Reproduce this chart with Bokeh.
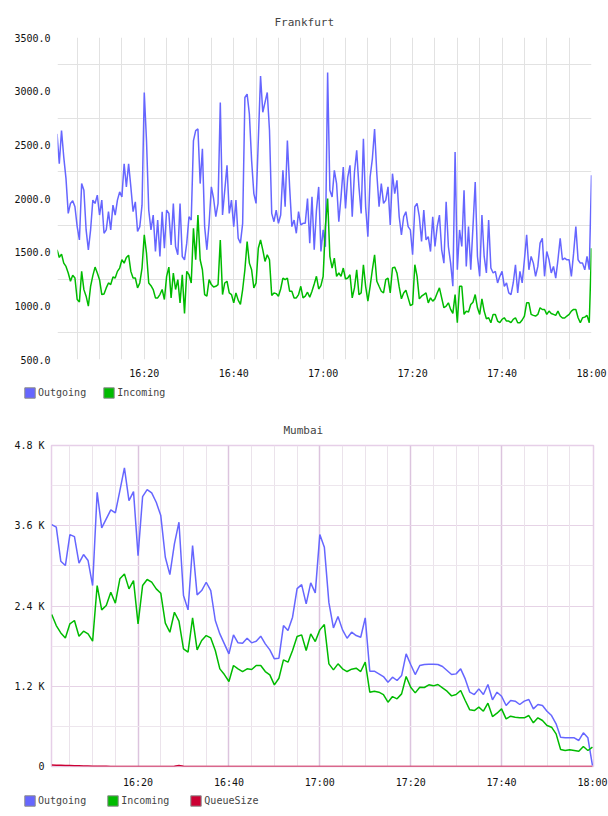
import pandas as pd
from bokeh.plotting import figure
from bokeh.models import (Range1d, FixedTicker, DatetimeTickFormatter, PrintfTickFormatter,
                          Legend, LegendItem, Grid)
from bokeh.embed import file_html
from bokeh.resources import INLINE

FONT = "DejaVu Sans Mono"
DAY = "2024-01-01 "
NAN = float("nan")

# ---------------- data: Frankfurt (30 s samples, 16:00:30 .. 18:00:00) ----------------
frank_start = "16:00:30"
frank_step = "30s"
frank_outgoing = [
    2602, 2324, 2633, 2386, 2185, 1861, 1954, 1979, 1923, 1738,
    1614, 2139, 2077, 1707, 1522, 1707, 1985, 1954, 2031, 1846,
    1985, 1676, 1707, 1877, 1707, 1938, 1846, 1985, 2062, 2015,
    2324, 2108, 2324, 2108, 1877, 1969, 1692, 1738, 1938, 2988,
    2540, 1892, 1707, 1846, 1506, 1799, 1460, 1877, 1537, 1892,
    1861, 1568, 1954, 1553, 1476, 1954, 1460, 1429, 1584, 1830,
    1799, 2540, 2633, 2648, 2139, 2463, 1738, 1522, 1769, 2108,
    2000, 1830, 1954, 2895, 1846, 2077, 2309, 1861, 1985, 1738,
    1985, 1630, 1584, 1769, 2941, 2972, 2787, 2355, 2046, 1954,
    2540, 3142, 2803, 2895, 2988, 2633, 1861, 1784, 1892, 1769,
    1846, 2262, 1923, 2540, 2108, 1738, 1799, 1676, 1877, 1753,
    1769, 1769, 2000, 1584, 2015, 1522, 1892, 2108, 1506, 1707,
    1550, 3173, 2077, 2015, 2262, 2139, 1784, 2015, 2293, 1908,
    2200, 2309, 1830, 2247, 2448, 2108, 1861, 2556, 1923, 1645,
    2200, 2370, 2648, 2231, 1923, 2139, 1954, 1985, 2108, 1753,
    2231, 2046, 2170, 1830, 1661, 1830, 1877, 1738, 1707, 1476,
    1923, 1954, 1830, 1599, 1892, 1614, 1645, 1506, 1830, 1553,
    1738, 1846, 1522, 1398, 1969, 1553, 1398, 1182, 2432, 1337,
    1707, 1553, 2077, 1367, 1738, 1336, 1738, 2154, 1460, 1275,
    1846, 1460, 1306, 1800, 1352, 1306, 1321, 1213, 1275, 1321,
    1182, 1213, 1120, 1105, 1213, 1383, 1120, 1321, 1213, 1429,
    1661, 1336, 1460, 1398, 1275, 1367, 1584, 1630, 1275, 1506,
    1429, 1306, 1367, 1259, 1429, 1630, 1429, 1445, 1429, 1429,
    1275, 1491, 1738, 1429, 1398, 1398, 1336, 1460, 1337, 2216,
]
frank_incoming = [
    1522, 1451, 1482, 1398, 1367, 1306, 1229, 1284, 1259, 1059,
    1037, 1321, 1151, 1090, 997, 1182, 1281, 1361, 1306, 1244,
    1105, 1111, 1167, 1213, 1198, 1269, 1259, 1321, 1352, 1429,
    1398, 1451, 1472, 1321, 1259, 1259, 1167, 1213, 1352, 1661,
    1491, 1213, 1188, 1152, 1074, 1074, 1105, 1152, 1059, 1275,
    1361, 1074, 1306, 1152, 1244, 1028, 1290, 930, 1321, 1290,
    1213, 1722, 1429, 1846, 1429, 1336, 1105, 1090, 1244, 1198,
    1176, 1182, 1198, 1614, 1105, 1213, 1229, 1120, 1105, 1028,
    1120, 1053, 1013, 1152, 1336, 1599, 1398, 1336, 1167, 1213,
    1537, 1614, 1522, 1414, 1476, 1429, 1096, 1120, 1114, 1090,
    1157, 1259, 1244, 1259, 1136, 1136, 1074, 1074, 1105, 1182,
    1074, 1090, 1127, 1080, 1136, 1204, 1275, 1157, 1188, 1275,
    1738, 2000, 1460, 1352, 1445, 1275, 1306, 1275, 1352, 1250,
    1259, 1290, 1074, 1167, 1336, 1105, 1120, 1383, 1182, 1044,
    1182, 1336, 1476, 1229, 1182, 1136, 1120, 1244, 1259, 1120,
    1352, 1361, 1306, 1176, 1065, 1120, 1145, 1074, 1003, 1013,
    1383, 1275, 1065, 1090, 1105, 1120, 1028, 1074, 1044, 1065,
    1120, 1167, 1074, 982, 997, 1028, 967, 929, 1105, 843,
    1182, 1182, 920, 951, 942, 1013, 1034, 1105, 982, 920,
    1065, 951, 880, 889, 843, 920, 920, 858, 843, 874,
    889, 858, 858, 843, 874, 889, 843, 843, 868, 905,
    1028, 1028, 920, 911, 905, 920, 982, 966, 966, 920,
    951, 929, 920, 911, 951, 905, 886, 886, 905, 920,
    951, 966, 966, 889, 843, 889, 895, 911, 843, 1537,
]

# ---------------- data: Mumbai (1 min samples, 16:01 .. 18:00) ----------------
mumbai_start = "16:01:00"
mumbai_step = "60s"
mumbai_outgoing = [
    3618, 3578, 3070, 3005, 3468, 3438, 3040, 3169, 3080, 2706,
    4101, 3568, 3702, 3837, 3792, 4126, 4465, 3976, 4111, 3154,
    4036, 4141, 4091, 3951, 3752, 3129, 2870, 3329, 3653, 2556,
    2342, 3304, 2566, 2631, 2755, 2631, 2183, 1983, 1834, 1684,
    1968, 1849, 1844, 1918, 1849, 1874, 1948, 1834, 1744, 1610,
    1620, 2108, 2033, 2232, 2660, 2720, 2432, 2746, 2596, 3468,
    3279, 2450, 2073, 2242, 2043, 1918, 2008, 1958, 1933, 2222,
    1425, 1425, 1385, 1345, 1261, 1335, 1286, 1360, 1684, 1525,
    1375, 1510, 1525, 1530, 1530, 1525, 1495, 1435, 1375, 1385,
    1460, 1310, 1111, 1076, 1161, 1076, 1226, 997, 1111, 1051,
    912, 987, 977, 927, 977, 1002, 862, 927, 912, 827,
    762, 638, 438, 429, 429, 429, 389, 503, 429, 15,
]
mumbai_incoming = [
    2272, 2108, 1998, 1923, 2133, 2183, 1948, 2023, 1983, 1874,
    2706, 2342, 2407, 2606, 2442, 2806, 2880, 2656, 2781, 2133,
    2706, 2796, 2756, 2656, 2591, 2143, 2008, 2307, 2173, 1759,
    1709, 2222, 1744, 1884, 1958, 1923, 1734, 1460, 1375, 1271,
    1510, 1460, 1420, 1460, 1450, 1510, 1510, 1420, 1370, 1221,
    1320, 1595, 1560, 1734, 1943, 1968, 1734, 1983, 1869, 2043,
    2123, 1535, 1445, 1535, 1460, 1420, 1455, 1470, 1420, 1560,
    1111, 1126, 1111, 1076, 962, 1046, 1012, 1086, 1345, 1186,
    1101, 1186, 1181, 1221, 1206, 1226, 1176, 1126, 1056, 1076,
    1136, 987, 847, 837, 887, 827, 947, 747, 797, 862,
    713, 752, 737, 728, 728, 762, 653, 728, 688, 613,
    588, 488, 254, 239, 249, 239, 229, 299, 239, 289,
]
mumbai_queue = [
    22, 20, 18, 16, 14, 12, 10, 8, 6, 4,
    3, 2, 2, 1, 1, 0, 0, 0, 0, 0,
    0, 0, 0, 0, 0, 0, 0, 4, 14, 4,
    0, 0, 0, 0, 0, 0, 0, 0, 0, 0,
    0, 0, 0, 0, 0, 0, 0, 0, 0, 0,
    0, 0, 0, 0, 0, 0, 0, 0, 0, 0,
    0, 0, 0, 0, 0, 0, 0, 0, 0, 0,
    0, 0, 0, 0, 0, 0, 0, 0, 0, 0,
    0, 0, 0, 0, 0, 0, 0, 0, 0, 0,
    0, 0, 0, 0, 0, 0, 0, 0, 0, 0,
    0, 0, 0, 0, 0, 0, 0, 0, 0, 0,
    0, 0, 0, 0, 0, 0, 0, 0, 0, 0,
]

x_tick_labels = ["16:20", "16:40", "17:00", "17:20", "17:40", "18:00"]
frank_y_ticks = [500, 1000, 1500, 2000, 2500, 3000, 3500]
mumbai_y_ticks = [0, 1200, 2400, 3600, 4800]
mumbai_y_labels = ["0", "1.2 K", "2.4 K", "3.6 K", "4.8 K"]

COL_OUT = "#6666ff"
COL_IN = "#00bb00"
COL_Q = "#cc0033"


def ms(hhmmss):
    return pd.Timestamp(DAY + hhmmss).value / 1e6


def minute_ticks(first, last, step_min):
    t0 = pd.Timestamp(DAY + first)
    t1 = pd.Timestamp(DAY + last)
    return [t.value / 1e6 for t in pd.date_range(t0, t1, freq=f"{step_min}min")]


fmt = DatetimeTickFormatter(seconds="%H:%M", minsec="%H:%M", minutes="%H:%M",
                            hourmin="%H:%M", hours="%H:%M")


def style_axes(p, x_standoff):
    for ax in (p.xaxis[0], p.yaxis[0]):
        ax.axis_line_color = None
        ax.major_tick_line_color = None
        ax.minor_tick_line_color = None
        ax.major_tick_out = 0
        ax.major_tick_in = 0
        ax.minor_tick_out = 0
        ax.minor_tick_in = 0
        ax.major_label_text_font = FONT
        ax.major_label_text_font_size = "10px"
        ax.major_label_text_color = "#111111"
    p.yaxis[0].major_label_standoff = 7
    p.xaxis[0].major_label_standoff = x_standoff
    p.xaxis[0].ticker = FixedTicker(ticks=[ms(t + ":00") for t in x_tick_labels])
    p.xaxis[0].formatter = fmt


def legend_strip(names, colors, height, x0, y0, spacing):
    """A thin figure that only carries the legend row under a chart."""
    lf = figure(width=608, height=height, output_backend="svg", toolbar_location=None,
                x_range=Range1d(0, 1), y_range=Range1d(0, 1),
                x_axis_location=None, y_axis_location=None,
                min_border_left=0, min_border_right=0, min_border_top=0, min_border_bottom=0)
    lf.outline_line_color = None
    lf.xgrid.visible = False
    lf.ygrid.visible = False
    items = []
    for n, c in zip(names, colors):
        r = lf.quad(left=[NAN], right=[NAN], top=[NAN], bottom=[NAN],
                    fill_color=c, line_color="#8a8a8a")
        items.append(LegendItem(label=n, renderers=[r]))
    leg = Legend(items=items, orientation="horizontal", location=(x0, y0),
                 glyph_width=13, glyph_height=13, label_standoff=2, spacing=spacing,
                 padding=0, margin=0, border_line_color=None, background_fill_alpha=0,
                 label_text_font=FONT, label_text_font_size="10px", label_height=13)
    lf.add_layout(leg, "center")
    return lf


# ---------------- Frankfurt ----------------
ft = pd.date_range(DAY + frank_start, periods=len(frank_outgoing), freq=frank_step)
p1 = figure(width=608, height=383, x_axis_type="datetime", output_backend="svg",
            toolbar_location=None, x_range=Range1d(ms("16:00:36"), ms("18:00:00")),
            y_range=Range1d(500, 3500), min_border_left=57, min_border_right=17,
            min_border_top=37, min_border_bottom=24, title="Frankfurt")
p1.outline_line_color = None
p1.title.align = "left"
p1.title.offset = 217
p1.title.text_font = FONT
p1.title.text_font_size = "11px"
p1.title.text_font_style = "normal"
p1.title.standoff = 17
style_axes(p1, 8)
p1.yaxis[0].ticker = FixedTicker(ticks=frank_y_ticks)
p1.yaxis[0].formatter = PrintfTickFormatter(format="%.1f")
p1.xgrid.ticker = FixedTicker(ticks=minute_ticks("16:05:00", "18:00:00", 5))
p1.ygrid.ticker = FixedTicker(ticks=[750, 1250, 1750, 2250, 2750, 3250])
for g in (p1.xgrid[0], p1.ygrid[0]):
    g.grid_line_color = "#e2e2e2"
    g.grid_line_width = 1
p1.line(ft, frank_outgoing, line_color=COL_OUT, line_width=1.5)
p1.line(ft, frank_incoming, line_color=COL_IN, line_width=1.5)
leg1 = legend_strip(["Outgoing", "Incoming"], [COL_OUT, COL_IN], 22, 23, 6, 16)

# ---------------- Mumbai ----------------
mt = pd.date_range(DAY + mumbai_start, periods=len(mumbai_outgoing), freq=mumbai_step)
p2 = figure(width=608, height=386, x_axis_type="datetime", output_backend="svg",
            toolbar_location=None, x_range=Range1d(ms("16:00:57"), ms("18:00:14")),
            y_range=Range1d(0, 4800), min_border_left=51, min_border_right=15,
            min_border_top=40, min_border_bottom=25, title="Mumbai")
p2.outline_line_color = "#e6cfe8"
p2.outline_line_width = 1.5
p2.title.align = "left"
p2.title.offset = 232
p2.title.text_font = FONT
p2.title.text_font_size = "11px"
p2.title.text_font_style = "normal"
p2.title.standoff = 17
style_axes(p2, 10)
p2.yaxis[0].ticker = FixedTicker(ticks=mumbai_y_ticks)
p2.yaxis[0].major_label_overrides = {t: l for t, l in zip(mumbai_y_ticks, mumbai_y_labels)}
majors_x = [ms(t + ":00") for t in x_tick_labels[:-1]]
minors_x = [t for t in minute_ticks("16:05:00", "17:55:00", 5) if t not in majors_x]
p2.xgrid.ticker = FixedTicker(ticks=majors_x)
p2.xgrid.grid_line_color = "#dcc4de"
p2.xgrid.grid_line_width = 1.5
p2.ygrid.ticker = FixedTicker(ticks=[1200, 2400, 3600])
p2.ygrid.grid_line_color = "#e6d3e6"
p2.ygrid.grid_line_width = 1
p2.add_layout(Grid(dimension=0, ticker=FixedTicker(ticks=minors_x),
                   grid_line_color="#ebe3eb", grid_line_width=1), "center")
p2.add_layout(Grid(dimension=1, ticker=FixedTicker(ticks=[600, 1800, 3000, 4200]),
                   grid_line_color="#ede6ed", grid_line_width=1), "center")
p2.line(mt, mumbai_outgoing, line_color=COL_OUT, line_width=1.5)
p2.line(mt, mumbai_incoming, line_color=COL_IN, line_width=1.5)
p2.line(mt, mumbai_queue, line_color=COL_Q, line_width=1.5)
leg2 = legend_strip(["Outgoing", "Incoming", "QueueSize"], [COL_OUT, COL_IN, COL_Q], 25, 23, 9, 20)

open("out.html", "w").write(file_html([p1, leg1, p2, leg2], INLINE))
